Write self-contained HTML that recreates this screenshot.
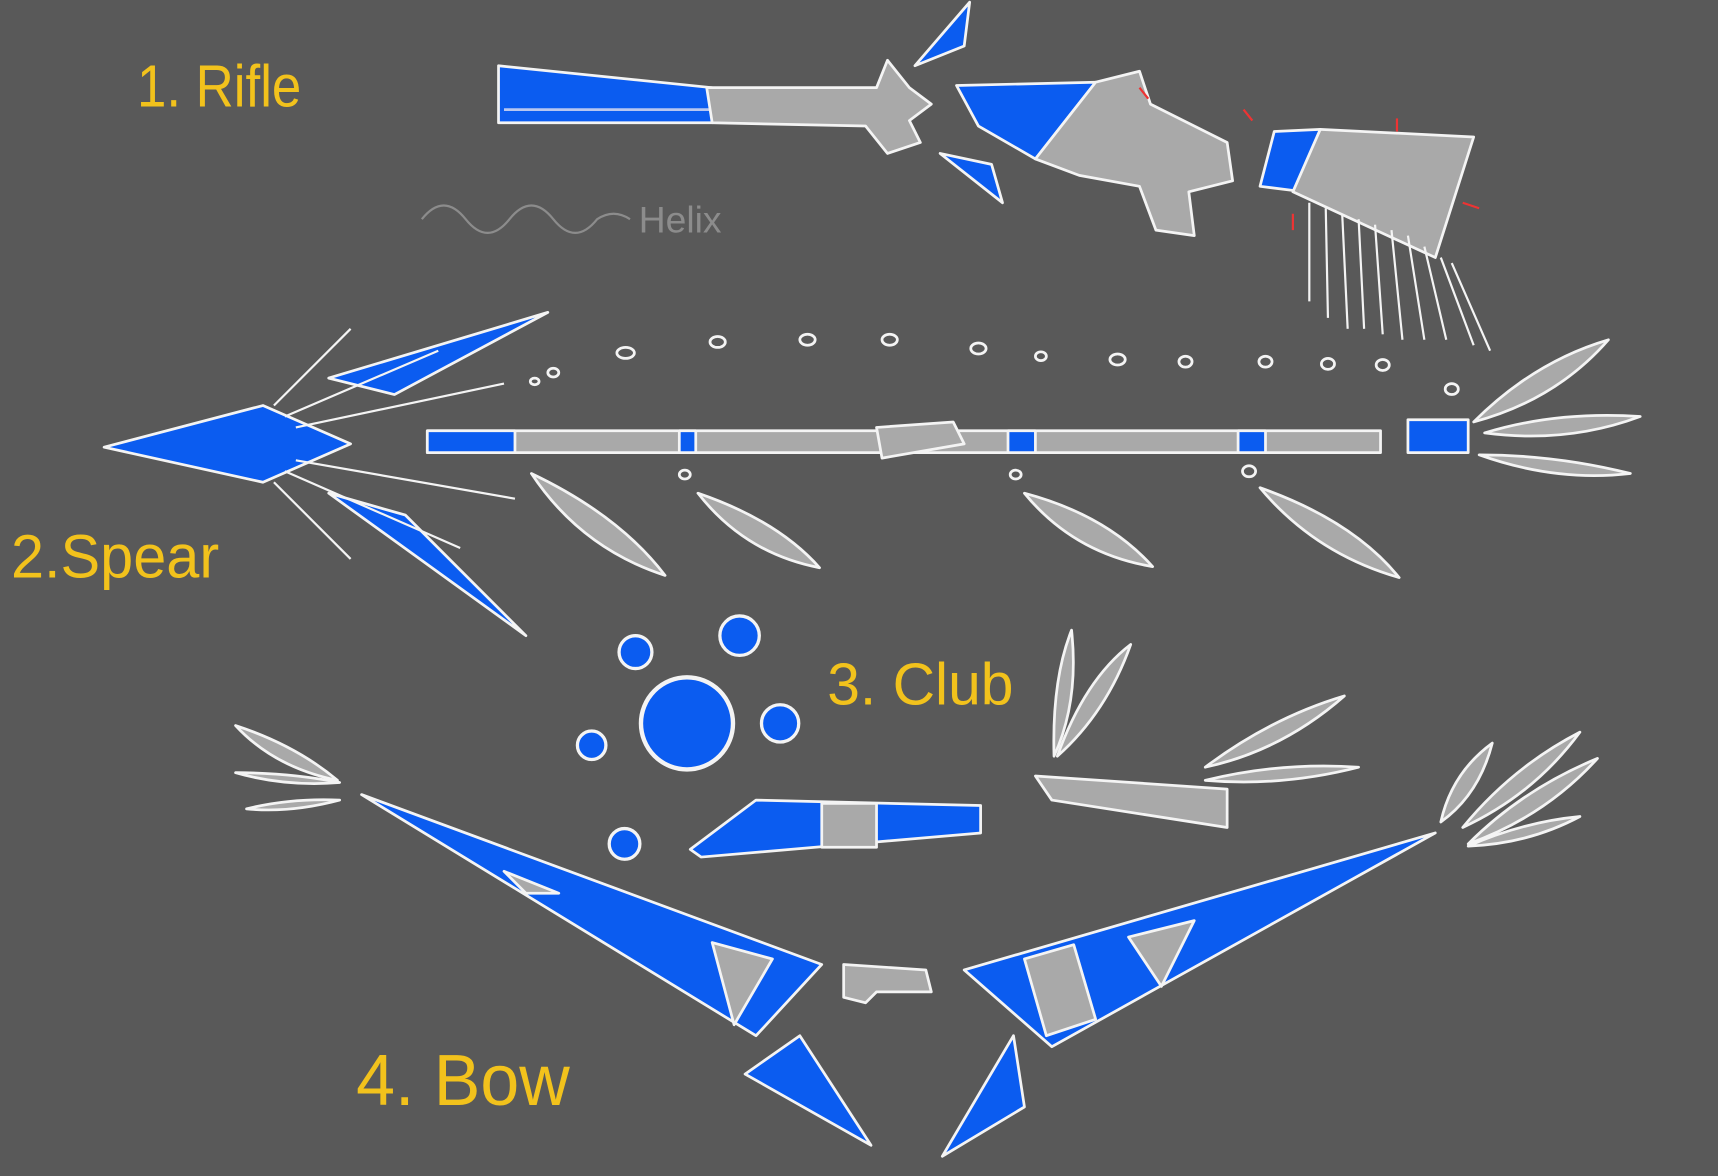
<!DOCTYPE html>
<html><head><meta charset="utf-8"><style>
html,body{margin:0;padding:0;background:#595959;}
svg{display:block;}
.lab{font-family:"Liberation Sans Narrow","Liberation Sans",sans-serif;fill:#f2c21c;}
</style></head><body>
<svg width="1718" height="1176" viewBox="0 0 1568 1073" preserveAspectRatio="none" xmlns="http://www.w3.org/2000/svg">
<rect width="1568" height="1073" fill="#595959"/>
<g stroke="#f4f4f4" stroke-width="2.5" stroke-linejoin="round">
<g>
<polygon points="455,60 650,80 650,112 455,112" fill="#0b5cf0"/>
<line x1="460" y1="100" x2="650" y2="100" stroke="#b8c6f0"/>
<polygon points="645,80 800,80 810,55 830,80 850,95 830,110 840,130 810,140 790,115 650,112" fill="#a9a9a9"/>
<polygon points="835,60 885,2 880,42" fill="#0b5cf0"/>
<polygon points="858,140 915,185 905,150" fill="#0b5cf0"/>
<polygon points="873,78 1000,75 945,145 893,115" fill="#0b5cf0"/>
<polygon points="1000,75 1040,65 1050,95 1120,130 1125,165 1085,175 1090,215 1055,210 1040,170 985,160 945,145" fill="#a9a9a9"/>
<polygon points="1163,120 1205,118 1190,175 1150,170" fill="#0b5cf0"/>
<polygon points="1205,118 1345,125 1310,235 1180,175" fill="#a9a9a9"/>
<g fill="none" stroke-width="2">
<path d="M1195,185 L1195,275 M1210,190 L1212,290 M1225,195 L1230,300 M1240,200 L1245,300 M1255,205 L1262,305 M1270,210 L1280,310 M1285,215 L1300,310 M1300,225 L1320,310 M1315,235 L1345,315 M1325,240 L1360,320"/>
</g>
<g stroke="#e33" stroke-width="2"><path d="M1040,80 l8,10 M1135,100 l8,10 M1275,120 l0,-12 M1180,210 l0,-15 M1350,190 l-15,-5"/></g>
</g>
<text class="lab" x="583" y="212" font-size="34" style="fill:#8c8c8c" stroke="none">Helix</text>
<path d="M385,200 q20,-25 40,0 q20,25 40,0 q20,-25 40,0 q20,25 40,0 q15,-10 30,0" fill="none" stroke="#8c8c8c" stroke-width="2"/>
<g>
<polygon points="95,408 240,370 320,405 240,440" fill="#0b5cf0"/>
<polygon points="300,345 500,285 360,360" fill="#0b5cf0"/>
<polygon points="300,450 480,580 370,470" fill="#0b5cf0"/>
<g fill="none" stroke-width="2"><path d="M250,370 L320,300 M260,380 L400,320 M270,390 L460,350 M270,420 L470,455 M260,430 L420,500 M250,440 L320,510"/></g>
<rect x="390" y="393" width="870" height="20" fill="#a9a9a9"/>
<rect x="390" y="393" width="80" height="20" fill="#0b5cf0"/>
<rect x="620" y="393" width="15" height="20" fill="#0b5cf0"/>
<rect x="920" y="393" width="25" height="20" fill="#0b5cf0"/>
<rect x="1130" y="393" width="25" height="20" fill="#0b5cf0"/>
<rect x="1285" y="383" width="55" height="30" fill="#0b5cf0"/>
<path d="M800,390 L870,385 L880,405 L805,418 Z" fill="#a9a9a9"/>
<g fill="#a9a9a9">
<path d="M1345,385 Q1400,330 1468,310 Q1420,365 1345,385 Z"/>
<path d="M1355,395 Q1420,375 1497,380 Q1430,405 1355,395 Z"/>
<path d="M1350,415 Q1420,415 1488,432 Q1420,440 1350,415 Z"/>
<path d="M485,432 Q565,470 607,525 Q530,500 485,432 Z"/>
<path d="M637,450 Q710,475 748,518 Q680,505 637,450 Z"/>
<path d="M935,450 Q1010,470 1052,517 Q980,505 935,450 Z"/>
<path d="M1150,445 Q1235,475 1277,527 Q1200,505 1150,445 Z"/>
</g>
<g fill="none"><ellipse cx="571" cy="322" rx="8" ry="5"/><ellipse cx="655" cy="312" rx="7" ry="5"/><ellipse cx="737" cy="310" rx="7" ry="5"/><ellipse cx="812" cy="310" rx="7" ry="5"/><ellipse cx="893" cy="318" rx="7" ry="5"/><ellipse cx="950" cy="325" rx="5" ry="4"/><ellipse cx="1020" cy="328" rx="7" ry="5"/><ellipse cx="1082" cy="330" rx="6" ry="5"/><ellipse cx="1155" cy="330" rx="6" ry="5"/><ellipse cx="1212" cy="332" rx="6" ry="5"/><ellipse cx="1262" cy="333" rx="6" ry="5"/><ellipse cx="1325" cy="355" rx="6" ry="5"/><ellipse cx="505" cy="340" rx="5" ry="4"/><ellipse cx="488" cy="348" rx="4" ry="3"/><ellipse cx="625" cy="433" rx="5" ry="4"/><ellipse cx="927" cy="433" rx="5" ry="4"/><ellipse cx="1140" cy="430" rx="6" ry="5"/></g>
</g>
<g>
<circle cx="627" cy="660" r="42" fill="#0b5cf0" stroke-width="4"/>
<circle cx="580" cy="595" r="15" fill="#0b5cf0" stroke-width="3"/>
<circle cx="675" cy="580" r="18" fill="#0b5cf0" stroke-width="3"/>
<circle cx="540" cy="680" r="13" fill="#0b5cf0" stroke-width="3"/>
<circle cx="712" cy="660" r="17" fill="#0b5cf0" stroke-width="3"/>
<circle cx="570" cy="770" r="14" fill="#0b5cf0" stroke-width="3"/>
<polygon points="630,775 690,730 895,735 895,760 640,782" fill="#0b5cf0"/>
<rect x="750" y="733" width="50" height="40" fill="#a9a9a9"/>
<polygon points="945,708 1120,720 1120,755 960,730" fill="#a9a9a9"/>
<g fill="#a9a9a9">
<path d="M962,690 Q960,620 978,575 Q985,640 962,690 Z"/>
<path d="M965,690 Q990,620 1032,588 Q1010,650 965,690 Z"/>
<path d="M1100,700 Q1160,655 1227,635 Q1170,685 1100,700 Z"/>
<path d="M1100,712 Q1170,695 1240,700 Q1170,718 1100,712 Z"/>
<path d="M215,662 Q270,680 308,712 Q250,700 215,662 Z"/>
<path d="M215,705 Q265,705 310,714 Q260,718 215,705 Z"/>
<path d="M225,738 Q265,728 310,730 Q265,742 225,738 Z"/>
<path d="M1315,750 Q1325,705 1362,678 Q1350,725 1315,750 Z"/>
<path d="M1335,755 Q1380,700 1442,668 Q1400,725 1335,755 Z"/>
<path d="M1340,770 Q1390,720 1458,692 Q1410,745 1340,770 Z"/>
<path d="M1340,772 Q1390,750 1442,745 Q1395,770 1340,772 Z"/>
</g>
</g>
<g>
<polygon points="330,725 750,880 690,945" fill="#0b5cf0"/>
<polygon points="460,795 510,815 480,815" fill="#a9a9a9"/>
<polygon points="650,860 705,875 670,935" fill="#a9a9a9"/>
<polygon points="880,885 1310,760 960,955" fill="#0b5cf0"/>
<polygon points="935,875 980,862 1000,930 955,945" fill="#a9a9a9"/>
<polygon points="1030,855 1090,840 1060,900" fill="#a9a9a9"/>
<polygon points="770,880 845,885 850,905 800,905 790,915 770,910" fill="#a9a9a9"/>
<polygon points="680,980 795,1045 730,945" fill="#0b5cf0"/>
<polygon points="860,1055 925,945 935,1010" fill="#0b5cf0"/>
</g>
</g>
<text class="lab" x="125" y="97" font-size="54" textLength="150" lengthAdjust="spacingAndGlyphs">1. Rifle</text>
<text class="lab" x="10" y="527" font-size="56" textLength="190" lengthAdjust="spacingAndGlyphs">2.Spear</text>
<text class="lab" x="755" y="643" font-size="54" textLength="170" lengthAdjust="spacingAndGlyphs">3. Club</text>
<text class="lab" x="325" y="1008" font-size="66" textLength="195" lengthAdjust="spacingAndGlyphs">4. Bow</text>
</svg>
</body></html>
